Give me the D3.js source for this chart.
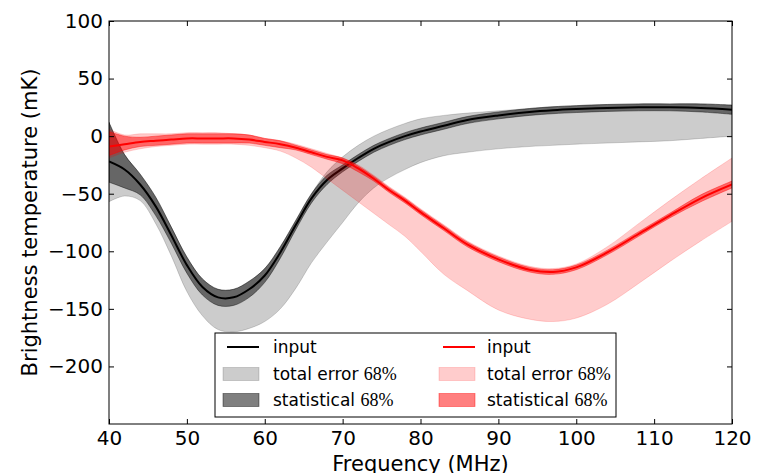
<!DOCTYPE html>
<html>
<head>
    <meta charset="utf-8">
    <title>Brightness temperature</title>
    <style>
        body { margin: 0; background: #fff; }
        text { font-family: "DejaVu Sans", sans-serif; fill: #000; }
        .tick line { stroke: #000; stroke-width: 1px; }
        .tick text { font-size: 20px; }
        .pct { font-family: "Liberation Serif", serif; }
    </style>
</head>
<body>
    <script src="https://cdn.jsdelivr.net/npm/d3@7"></script>
    <script>
        const width = 763;
        const height = 473;
        const margin = {top: 21, right: 31, bottom: 49, left: 109};

        // frequency grid (MHz)
        const freq = [40, 42, 44, 46, 48, 50, 52, 54, 56, 58, 60, 62, 64, 66, 68, 70, 72, 74, 76, 78,
                      80, 83, 86, 90, 94, 97, 100, 104, 108, 112, 116, 120];

        // black model
        const blackInput  = [-22, -29, -42, -61, -86, -112, -131, -140, -140, -133, -121, -101, -77, -54, -38, -28,
                             -19, -11, -5, 0, 4, 9, 14, 18, 21, 22.5, 23.5, 24.5, 25, 25, 24.5, 23];
        const blackStatLo = [-40, -45, -51, -69, -93, -119, -138, -147, -147, -140, -127, -106, -81, -58, -42, -31,
                             -22, -14, -8, -3, 1, 6, 11, 15, 18, 19.5, 20.5, 21.5, 22, 22, 21, 19];
        const blackStatHi = [12, -16, -33, -53, -79, -105, -124, -133, -133, -126, -115, -96, -73, -50, -34, -25,
                             -16, -8, -2, 3, 7, 12, 17, 21, 24, 25.5, 26.5, 27.5, 28, 28, 28, 27];
        const blackTotLo  = [-57, -52, -56, -76, -104, -135, -156, -168, -170, -167, -161, -150, -132, -110, -92, -75,
                             -58, -45, -36, -29, -23, -17, -14, -11, -9, -8, -7, -6, -5, -4, -2, 0];
        const blackTotHi  = [12, -16, -33, -53, -79, -105, -124, -133, -133, -126, -115, -96, -73, -50, -31, -18,
                             -8, 0, 6, 11, 15, 18, 20, 22, 24, 25.5, 26.5, 27.5, 28, 28, 28, 27];

        // red model
        const redInput    = [-9, -7, -5, -4, -3, -2, -2, -2, -2, -3, -5, -7, -10, -14, -18, -21,
                             -28, -37, -47, -56, -66, -80, -94, -107, -116, -118, -114, -101, -85, -69, -54, -42];
        const redStatLo   = [-17, -12, -9, -8, -7, -6, -6, -6, -6, -6, -8, -10, -12, -16, -20, -24,
                             -31, -39, -49, -58, -68, -82, -96, -109, -118, -120, -116, -103, -87, -71, -57, -45];
        const redStatHi   = [4, 0, -1, 0, 1, 2, 2, 2, 2, 1, -2, -4, -8, -12, -16, -19,
                             -26, -35, -45, -54, -64, -78, -92, -105, -114, -116, -112, -99, -83, -67, -51, -39];
        const redTotLo    = [-19, -14, -11, -9, -8, -7, -7, -7, -7, -8, -10, -13, -19, -27, -37, -47,
                             -57, -67, -77, -87, -100, -120, -134, -151, -159, -161, -158, -146, -128, -109, -91, -74];
        const redTotHi    = [6, 1, 2, 2, 2, 3, 3, 3, 2, 1, -2, -4, -7, -11, -15, -19,
                             -25, -34, -44, -53, -63, -77, -91, -104, -113, -115, -111, -96, -76, -56, -37, -19];

        const xTicks = [40, 50, 60, 70, 80, 90, 100, 110, 120];
        const yTicks = [-200, -150, -100, -50, 0, 50, 100];

        const svg = d3.select("body").append("svg")
            .attr("width", width)
            .attr("height", height);

        const w = width - margin.left - margin.right;
        const h = height - margin.top - margin.bottom;

        const x = d3.scaleLinear().domain([40, 120]).range([0, w]);
        const y = d3.scaleLinear().domain([-250, 100]).range([h, 0]);

        const g = svg.append("g")
            .attr("transform", `translate(${margin.left},${margin.top})`);

        g.append("clipPath").attr("id", "clip")
            .append("rect").attr("width", w).attr("height", h);

        const plot = g.append("g").attr("clip-path", "url(#clip)");

        const band = (lo, hi) => d3.area()
            .x((d, i) => x(freq[i]))
            .y0((d, i) => y(lo[i]))
            .y1((d, i) => y(hi[i]))
            .curve(d3.curveCatmullRom)(freq);

        const line = vals => d3.line()
            .x((d, i) => x(freq[i]))
            .y((d, i) => y(vals[i]))
            .curve(d3.curveCatmullRom)(freq);

        function drawBand(lo, hi, color, alpha) {
            plot.append("path")
                .attr("d", band(lo, hi))
                .attr("fill", color)
                .attr("fill-opacity", alpha)
                .attr("stroke", color)
                .attr("stroke-opacity", alpha)
                .attr("stroke-width", 0.8);
        }

        drawBand(blackTotLo, blackTotHi, "#000", 0.2);
        drawBand(blackStatLo, blackStatHi, "#000", 0.5);
        plot.append("path")
            .attr("d", line(blackInput))
            .attr("fill", "none")
            .attr("stroke", "#000")
            .attr("stroke-width", 2);

        drawBand(redTotLo, redTotHi, "#ff0000", 0.2);
        drawBand(redStatLo, redStatHi, "#ff0000", 0.5);
        plot.append("path")
            .attr("d", line(redInput))
            .attr("fill", "none")
            .attr("stroke", "#ff0000")
            .attr("stroke-width", 2);

        // axes, ticks pointing inward on all four sides
        g.append("g")
            .attr("transform", `translate(0,${h})`)
            .call(d3.axisBottom(x).tickValues(xTicks).tickSizeInner(-5).tickSizeOuter(0).tickPadding(7));
        g.append("g")
            .call(d3.axisTop(x).tickValues(xTicks).tickSizeInner(-5).tickSizeOuter(0).tickFormat(""));
        g.append("g")
            .call(d3.axisLeft(y).tickValues(yTicks).tickSizeInner(-5).tickSizeOuter(0).tickPadding(6));
        g.append("g")
            .attr("transform", `translate(${w},0)`)
            .call(d3.axisRight(y).tickValues(yTicks).tickSizeInner(-5).tickSizeOuter(0).tickFormat(""));
        g.selectAll(".domain").remove();

        g.append("rect")
            .attr("width", w)
            .attr("height", h)
            .attr("fill", "none")
            .attr("stroke", "#000")
            .attr("stroke-width", 1);

        // axis labels
        svg.append("text")
            .attr("x", margin.left + w / 2)
            .attr("y", 471)
            .attr("text-anchor", "middle")
            .style("font-size", "21px")
            .text("Frequency (MHz)");

        svg.append("text")
            .attr("transform", `translate(37,${margin.top + h / 2}) rotate(-90)`)
            .attr("text-anchor", "middle")
            .style("font-size", "21px")
            .text("Brightness temperature (mK)");

        // legend
        const legend = svg.append("g");
        legend.append("rect")
            .attr("x", 215).attr("y", 333)
            .attr("width", 401).attr("height", 84)
            .attr("fill", "#fff")
            .attr("stroke", "#000")
            .attr("stroke-width", 1);

        const legendCols = [
            {hx: 223, tx: 273, color: "#000"},
            {hx: 439, tx: 487, color: "#ff0000"}
        ];
        const rowY = [347, 374, 400];

        legendCols.forEach(c => {
            legend.append("line")
                .attr("x1", c.hx + 4).attr("x2", c.hx + 36)
                .attr("y1", rowY[0]).attr("y2", rowY[0])
                .attr("stroke", c.color).attr("stroke-width", 2);
            [[1, 0.2], [2, 0.5]].forEach(([r, a]) => {
                legend.append("rect")
                    .attr("x", c.hx).attr("y", rowY[r] - 6.5)
                    .attr("width", 36).attr("height", 13)
                    .attr("fill", c.color).attr("fill-opacity", a)
                    .attr("stroke", c.color).attr("stroke-opacity", a)
                    .attr("stroke-width", 0.8);
            });
            legend.append("text")
                .attr("x", c.tx).attr("y", rowY[0] + 6)
                .style("font-size", "17px")
                .text("input");
            const t1 = legend.append("text")
                .attr("x", c.tx).attr("y", rowY[1] + 6)
                .style("font-size", "17px")
                .text("total error ");
            t1.append("tspan").attr("class", "pct").style("font-size", "18px").text("68%");
            const t2 = legend.append("text")
                .attr("x", c.tx).attr("y", rowY[2] + 6)
                .style("font-size", "17px")
                .text("statistical ");
            t2.append("tspan").attr("class", "pct").style("font-size", "18px").text("68%");
        });
    </script>
</body>
</html>
